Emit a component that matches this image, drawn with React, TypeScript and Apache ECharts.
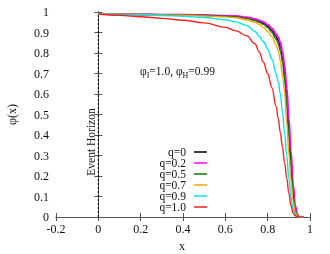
import React, { useEffect, useRef } from "react";
import * as echarts from "echarts";

const xs = [0, 0.1, 0.2, 0.3, 0.4, 0.5, 0.6, 0.65, 0.7, 0.74, 0.76, 0.78, 0.8, 0.82, 0.84, 0.85, 0.86, 0.87, 0.88, 0.89, 0.9, 0.91, 0.92, 0.93, 0.94, 0.95, 0.97];

const q0 = [0.99, 0.989, 0.988, 0.987, 0.986, 0.984, 0.981, 0.978, 0.972, 0.962, 0.955, 0.945, 0.93, 0.91, 0.88, 0.862, 0.83, 0.78, 0.7, 0.58, 0.43, 0.27, 0.12, 0.04, 0.008, 0, 0];
const q02 = [0.99, 0.989, 0.988, 0.987, 0.986, 0.985, 0.982, 0.98, 0.975, 0.966, 0.959, 0.951, 0.938, 0.92, 0.893, 0.876, 0.85, 0.805, 0.735, 0.63, 0.48, 0.32, 0.16, 0.055, 0.012, 0.001, 0];
const q05 = [0.99, 0.989, 0.988, 0.986, 0.985, 0.983, 0.979, 0.976, 0.969, 0.958, 0.95, 0.94, 0.924, 0.9, 0.868, 0.846, 0.81, 0.755, 0.67, 0.54, 0.39, 0.24, 0.11, 0.035, 0.007, 0, 0];
const q07 = [0.99, 0.989, 0.988, 0.986, 0.984, 0.981, 0.976, 0.972, 0.962, 0.95, 0.94, 0.925, 0.905, 0.88, 0.84, 0.81, 0.76, 0.69, 0.61, 0.46, 0.31, 0.18, 0.08, 0.025, 0.005, 0, 0];
const q09 = [0.99, 0.988, 0.986, 0.983, 0.979, 0.973, 0.962, 0.952, 0.935, 0.905, 0.882, 0.855, 0.82, 0.77, 0.7, 0.66, 0.6, 0.51, 0.41, 0.3, 0.19, 0.095, 0.038, 0.011, 0.002, 0, 0];
const q10 = [0.99, 0.984, 0.977, 0.969, 0.96, 0.947, 0.925, 0.908, 0.885, 0.845, 0.805, 0.755, 0.7, 0.63, 0.54, 0.48, 0.41, 0.34, 0.265, 0.19, 0.115, 0.055, 0.02, 0.006, 0.001, 0, 0];

const seriesNames = ["q=0", "q=0.2", "q=0.5", "q=0.7", "q=0.9", "q=1.0"];
const seriesValues = [q0, q02, q05, q07, q09, q10];
const seriesColors = ["#000000", "#ff00ff", "#008000", "#ffa500", "#00e5ee", "#ff2020"];
const seriesWidths = [1.4, 2, 1.4, 1.4, 1.4, 1.4];

const xTicks = { min: -0.2, max: 1, interval: 0.2 };
const yTicks = { min: 0, max: 1, interval: 0.1 };
const horizonX = 0;
const horizonTop = 0.99;

const FONT = "Liberation Serif";

export default function App() {
  const ref = useRef<HTMLDivElement>(null);
  useEffect(() => {
    const chart = echarts.init(ref.current!, undefined, { renderer: "svg" });
    const axisLine = { show: true, lineStyle: { color: "#555", width: 1 } };
    const tick = { show: true, inside: true, length: 4, lineStyle: { color: "#555" } };
    const label = { color: "#111", fontFamily: FONT, fontSize: 12 };

    const series: any[] = seriesNames.map((name, i) => ({
      name,
      type: "line",
      showSymbol: false,
      smooth: 0.4,
      smoothMonotone: "x",
      data: xs.map((x, j) => [x, seriesValues[i][j]]),
      lineStyle: { color: seriesColors[i], width: seriesWidths[i] },
      itemStyle: { color: seriesColors[i] },
      z: 2 + i,
    }));
    series.push({
      type: "line",
      name: "horizon",
      showSymbol: false,
      data: [
        [horizonX, 0],
        [horizonX, horizonTop],
      ],
      lineStyle: { color: "#000", width: 1, type: [2, 2] },
      z: 1,
    });

    const legendTop = 152;
    const legendGap = 11;
    const graphic: any[] = [];
    seriesNames.forEach((name, i) => {
      const y = legendTop + i * legendGap;
      graphic.push({
        type: "text",
        x: 186,
        y,
        style: { text: name, fill: "#111", font: `11.5px "${FONT}"`, textAlign: "right", textVerticalAlign: "middle" },
      });
      graphic.push({
        type: "line",
        shape: { x1: 194, y1: y, x2: 207, y2: y },
        style: { stroke: seriesColors[i], lineWidth: 1.5 },
      });
    });
    graphic.push({
      type: "text",
      x: 91,
      y: 142,
      rotation: Math.PI / 2,
      style: { text: "Event Horizon", fill: "#111", font: `11.5px "${FONT}"`, textAlign: "center", textVerticalAlign: "middle" },
    });
    graphic.push({
      type: "text",
      x: 140,
      y: 72,
      style: {
        text: "{n|φ}{s|I}{n|=1.0, φ}{s|H}{n|=0.99}",
        fill: "#111",
        textVerticalAlign: "middle",
        rich: {
          n: { fontFamily: FONT, fontSize: 11.5, lineHeight: 14, verticalAlign: "top", padding: [0, 0, 0, 0] },
          s: { fontFamily: FONT, fontSize: 8, lineHeight: 8, verticalAlign: "bottom", padding: [9, 0, 0, 0] },
        },
      },
    });
    graphic.push({
      type: "text",
      x: 182,
      y: 246,
      style: { text: "x", fill: "#111", font: `12px "${FONT}"`, textAlign: "center", textVerticalAlign: "middle" },
    });

    chart.setOption({
      animation: false,
      grid: { left: 56, right: 20, top: 12, bottom: 37, outerBoundsMode: "none" },
      xAxis: [
        {
          type: "value",
          ...xTicks,
          axisLine,
          axisTick: tick,
          axisLabel: { ...label, margin: 6 },
          splitLine: { show: false },
        },
        {
          type: "value",
          position: "top",
          ...xTicks,
          axisLine,
          axisTick: tick,
          axisLabel: { show: false },
          splitLine: { show: false },
        },
      ],
      yAxis: [
        {
          type: "value",
          ...yTicks,
          axisLine,
          axisTick: tick,
          axisLabel: { ...label, margin: 7 },
          splitLine: { show: false },
          name: "φ(x)",
          nameLocation: "middle",
          nameGap: 38,
          nameTextStyle: { color: "#111", fontFamily: FONT, fontSize: 12 },
        },
        {
          type: "value",
          position: "right",
          ...yTicks,
          axisLine,
          axisTick: tick,
          axisLabel: { show: false },
          splitLine: { show: false },
        },
      ],
      series,
      graphic,
    });
    return () => chart.dispose();
  }, []);
  return <div ref={ref} style={{ width: 330, height: 254, position: "fixed", left: 0, top: 0 }} />;
}
